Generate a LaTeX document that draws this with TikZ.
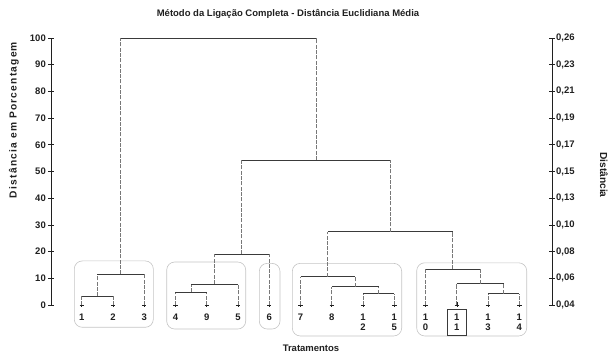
\documentclass[tikz,border=0pt]{standalone}
\usepackage{fontspec}
\usepackage{tikz}
\usetikzlibrary{calc}
\newfontfamily\chartfont{Liberation Sans}
\newfontfamily\widefont[LetterSpace=12]{Liberation Sans}
\definecolor{ink}{RGB}{32,32,32}
\definecolor{hbar}{RGB}{58,58,58}
\definecolor{vbar}{RGB}{120,120,120}
\definecolor{frame}{RGB}{196,196,196}
\tikzset{
  hline/.style={hbar,line width=0.9pt},
  vline/.style={vbar,line width=0.9pt,dash pattern=on 4pt off 1.3pt},
  axisline/.style={ink,line width=0.8pt},
  tickline/.style={ink,line width=0.6pt},
  groupbox/.style={frame,line width=0.6pt,rounded corners=8pt},
  chartlab/.style={ink,inner sep=0pt,font=\chartfont\bfseries\fontsize{9.5}{10}\selectfont},
  leaflab/.style={chartlab,align=center},
  sidelab/.style={ink,inner sep=0pt,font=\chartfont\bfseries\fontsize{10.2}{12}\selectfont}
}
\newcommand{\joinclust}[4]{
  \path ($(#2)!.5!(#3)$) coordinate (#1-x);
  \coordinate (#1) at (#1-x |- 0,#4);
  \draw[vline] (#2) -- (#2 |- #1);
  \draw[vline] (#3) -- (#3 |- #1);
  \draw[hline] (#2 |- #1) -- (#3 |- #1);
}
\begin{document}
\begin{tikzpicture}[x=1pt,y=2.67pt]
\useasboundingbox (0,-18.35) rectangle (611,114.23);
% axes
\draw[axisline] (51,0)--(51,100);
\draw[axisline] (552,0)--(552,100);
\foreach \v in {0,10,...,100}{
  \draw[tickline] (48,\v)--(54,\v);
  \draw[tickline] (549,\v)--(555,\v);
  \node[chartlab,anchor=east] (yl\v) at (46,\v) {\v};
}
\foreach \t [count=\i from 0] in {04,06,08,10,13,15,17,19,21,23,26}
  \node[chartlab,anchor=west] (yr\i) at (556,10*\i) {0,\t};
\node[chartlab] (title) at (288,109) {Método da Ligação Completa - Distância Euclidiana Média};
\node[sidelab,font=\widefont\bfseries\fontsize{10.2}{12}\selectfont,rotate=90] (ytitle) at (14,69.3) {Distância em Porcentagem};
\node[sidelab,rotate=-90] (rtitle) at (604,48.7) {Distância};
\node[chartlab] (xtitle) at (311,-16.1) {Tratamentos};
% group boxes
\draw[groupbox] (74.3,-8.35) rectangle (153.3,16.5);
\draw[groupbox] (166.7,-9) rectangle (245.7,16.1);
\draw[groupbox] (259.3,-9) rectangle (280,15.6);
\draw[groupbox] (292.3,-11.6) rectangle (401.7,15.6);
\draw[groupbox] (416.7,-11.6) rectangle (526.7,15.8);
% leaves
\foreach \lab [count=\i from 0] in {1,2,3,4,9,5,6,7,8,12,15,10,11,13,14}{
  \coordinate (L\lab) at (81.7+31.26*\i,0);
  \draw[tickline] ([xshift=-2.2pt]L\lab)--([xshift=2.2pt]L\lab);
  \draw[tickline] ([yshift=-1.8pt]L\lab)--([yshift=2.5pt]L\lab);
}
\foreach \lab in {1,2,3,4,9,5,6,7,8}
  \node[leaflab] (t\lab) at ([yshift=-12pt]L\lab) {\lab};
\node[leaflab] (t12) at ([yshift=-17pt]L12) {1\\2};
\node[leaflab] (t15) at ([yshift=-17pt]L15) {1\\5};
\node[leaflab] (t10) at ([yshift=-17pt]L10) {1\\0};
\node[leaflab,draw=hbar,line width=0.8pt,minimum width=19pt,minimum height=26pt] (t11) at ([yshift=-17pt]L11) {1\\1};
\node[leaflab] (t13) at ([yshift=-17pt]L13) {1\\3};
\node[leaflab] (t14) at ([yshift=-17pt]L14) {1\\4};
% clusters
\joinclust{m12}{L1}{L2}{3.26}
\joinclust{m123}{m12}{L3}{11.5}
\joinclust{m49}{L4}{L9}{4.87}
\joinclust{m495}{m49}{L5}{7.87}
\joinclust{m4956}{m495}{L6}{19}
\joinclust{m1215}{L12}{L15}{4.23}
\joinclust{m8}{L8}{m1215}{6.85}
\joinclust{m7}{L7}{m8}{10.6}
\joinclust{m1314}{L13}{L14}{4.23}
\joinclust{m11}{L11}{m1314}{7.98}
\joinclust{m10}{L10}{m11}{13.5}
\joinclust{mA}{m7}{m10}{27.45}
\joinclust{mB}{m4956}{mA}{54.3}
\joinclust{root}{m123}{mB}{100}
\end{tikzpicture}
\end{document}
